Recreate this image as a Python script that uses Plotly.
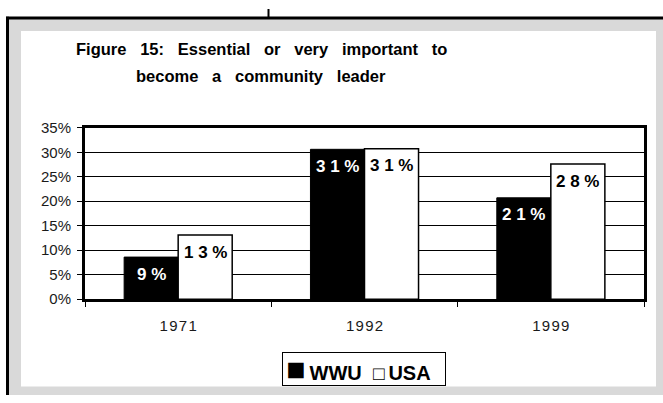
import plotly.graph_objects as go

# ---- data ----
years = ["1971", "1992", "1999"]
series_names = ["WWU", "USA"]
wwu = [8.6, 30.6, 20.7]
usa = [13.1, 30.7, 27.6]
y_ticks = [0, 5, 10, 15, 20, 25, 30, 35]
y_tick_text = [f"{t}%" for t in y_ticks]
title_lines = ["Figure 15: Essential or very important to",
               "become a community leader"]

W, H = 663, 403
FONT = "Liberation Sans, Arial, sans-serif"
BARGAP = 0.42
NB = "\u00a0"
HAIR = "\u200a"
THIN = "\u2009"


def px_x(x):
    return x / W


def px_y(y):
    return 1 - y / H


def spaced(s):
    return " ".join(list(s))


def wide_words(s):
    return (NB * 3).join(s.split(" "))


fig = go.Figure()
fig.add_trace(go.Bar(x=years, y=wwu, name=series_names[0],
                     marker=dict(color="black", line=dict(color="black", width=1)),
                     showlegend=False, hoverinfo="x+y"))
fig.add_trace(go.Bar(x=years, y=usa, name=series_names[1],
                     marker=dict(color="white", line=dict(color="black", width=1.5)),
                     showlegend=False, hoverinfo="x+y"))

# value labels, positioned at each bar's centre via the category index
bar_w = (1 - BARGAP) / 2
annotations = []
for si, (vals, col) in enumerate([(wwu, "white"), (usa, "black")]):
    off = (si - 0.5) * bar_w
    for i, v in enumerate(vals):
        annotations.append(dict(
            x=i + off, y=v, xref="x", yref="y", yshift=-17,
            text="<b>" + spaced(f"{v:.0f}%") + "</b>", showarrow=False,
            font=dict(family=FONT, size=17, color=col),
            xanchor="center", yanchor="middle"))

# title
for li, (line, yc) in enumerate(zip(title_lines, [42, 70])):
    annotations.append(dict(
        x=px_x(261), y=px_y(yc), xref="paper", yref="paper",
        text="<b>" + wide_words(line) + "</b>", showarrow=False,
        font=dict(family=FONT, size=16.5, color="black"),
        xanchor="center", yanchor="middle"))

# legend box
legend_text = ("<span style='font-size:32px'>\u25a0</span>" + THIN + "<b>" + series_names[0] +
               "</b>" + NB * 2 + "<span style='font-size:19px'>\u25a1</span>" + THIN +
               "<b>" + series_names[1] + "</b>" + NB * 2)
annotations.append(dict(
    x=px_x(364), y=px_y(376), xref="paper", yref="paper",
    text=legend_text, showarrow=False,
    font=dict(family=FONT, size=20, color="black"),
    xanchor="center", yanchor="middle",
    bordercolor="black", borderwidth=1, borderpad=0,
    width=162, height=32, bgcolor="white"))

shapes = [
    # grey frame
    dict(type="rect", xref="paper", yref="paper", x0=px_x(7), x1=px_x(663),
         y0=px_y(403), y1=px_y(10), fillcolor="#d9d9d9", line=dict(width=0), layer="below"),
    # white inner panel
    dict(type="rect", xref="paper", yref="paper", x0=px_x(21), x1=px_x(656),
         y0=px_y(394), y1=px_y(23), fillcolor="white", line=dict(width=0), layer="below"),
    # outer black border lines
    dict(type="line", xref="paper", yref="paper", x0=px_x(6), x1=px_x(663),
         y0=px_y(9.5), y1=px_y(9.5), line=dict(color="black", width=3)),
    dict(type="line", xref="paper", yref="paper", x0=px_x(7.5), x1=px_x(7.5),
         y0=px_y(8), y1=px_y(403), line=dict(color="black", width=3)),
    # connector at top
    dict(type="line", xref="paper", yref="paper", x0=px_x(268.5), x1=px_x(268.5),
         y0=px_y(0), y1=px_y(9), line=dict(color="black", width=2)),
]

fig.update_layout(
    width=W, height=H, autosize=False,
    margin=dict(l=0, r=0, t=0, b=0, pad=0),
    paper_bgcolor="white", plot_bgcolor="white",
    barmode="group", bargap=BARGAP, bargroupgap=0,
    font=dict(family=FONT, size=14, color="#1a1a1a"),
    annotations=annotations, shapes=shapes,
    xaxis=dict(domain=[px_x(85), px_x(644)], type="category",
               categoryorder="array", categoryarray=years,
               tickmode="array", tickvals=years,
               ticktext=[HAIR.join(list(y)) for y in years],
               showline=True, linewidth=3, linecolor="black", mirror=True,
               ticks="outside", tickson="boundaries", ticklen=5, tickwidth=1,
               tickcolor="black", showgrid=False, ticklabelstandoff=11,
               tickfont=dict(family=FONT, size=15, color="#1a1a1a")),
    yaxis=dict(domain=[px_y(303), px_y(124)], range=[0, 35],
               tickmode="array", tickvals=y_ticks, ticktext=y_tick_text,
               showline=True, linewidth=3, linecolor="black", mirror=True,
               ticks="outside", ticklen=5, tickwidth=1, tickcolor="black",
               showgrid=True, gridcolor="black", gridwidth=1, zeroline=False,
               ticklabelstandoff=3,
               tickfont=dict(family=FONT, size=15, color="#1a1a1a")),
)

fig.write_html("out.html", config={"displayModeBar": False},
               post_script="document.body.style.margin='0';")
